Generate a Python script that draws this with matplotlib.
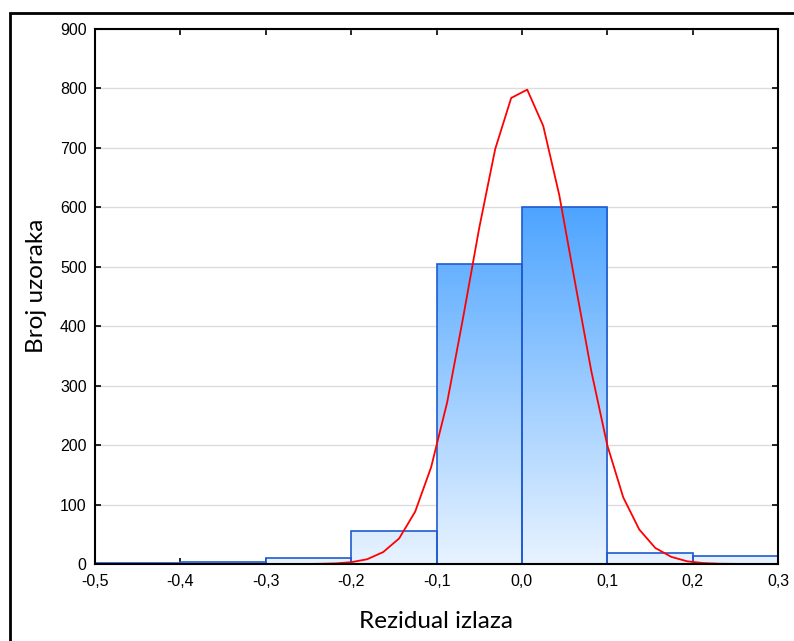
import numpy as np
import matplotlib
matplotlib.use("Agg")
import matplotlib.pyplot as plt
from matplotlib.patches import Rectangle

# histogram bins and counts
bin_edges = [-0.5, -0.4, -0.3, -0.2, -0.1, 0.0, 0.1, 0.2, 0.3]
counts = [1, 3, 10, 55, 505, 600, 18, 14]

# expected normal curve, vertices as drawn
curve_x = [-0.5, -0.48125, -0.4625, -0.44375, -0.425, -0.40625, -0.3875, -0.36875,
           -0.35, -0.33125, -0.3125, -0.29375, -0.275, -0.25625, -0.2375, -0.21875,
           -0.2, -0.18125, -0.1625, -0.14375, -0.125, -0.10625, -0.0875, -0.06875,
           -0.05, -0.03125, -0.0125, 0.00625, 0.025, 0.04375, 0.0625, 0.08125,
           0.1, 0.11875, 0.1375, 0.15625, 0.175, 0.19375, 0.2125, 0.23125,
           0.25, 0.26875, 0.2875]
curve_y = [0, 0, 0, 0, 0, 0, 0, 0,
           0, 0, 0, 0, 0, 0, 0.3, 1,
           3, 8, 20, 43, 88, 163, 272, 415,
           565, 698, 784, 798, 737, 621, 472, 325,
           200, 112, 58, 27, 12, 4.5, 1.6, 0.5,
           0.2, 0, 0]

xticks = [-0.5, -0.4, -0.3, -0.2, -0.1, 0.0, 0.1, 0.2, 0.3]
xtick_labels = ["-0,5", "-0,4", "-0,3", "-0,2", "-0,1", "0,0", "0,1", "0,2", "0,3"]
yticks = [0, 100, 200, 300, 400, 500, 600, 700, 800, 900]

plt.rcParams['font.family'] = ['Liberation Sans', 'DejaVu Sans']

fig = plt.figure(figsize=(7.94, 6.41), dpi=100)
ax = fig.add_axes([95 / 794, 77 / 641, 683 / 794, 535 / 641])

# outer frame (only top and left edges visible)
fig.add_artist(Rectangle((10 / 794, -0.2), 1.2, (628 / 641) + 0.2, transform=fig.transFigure,
                         fill=False, edgecolor='black', linewidth=2, clip_on=False))

ax.set_xlim(-0.5, 0.3)
ax.set_ylim(0, 900)
ax.yaxis.grid(True, color='#dcdcdc', linewidth=1)
ax.set_axisbelow(True)

# gradient fill shared by all bars: light at 0, saturated blue at 600
top_c = np.array([77, 164, 255]) / 255
bot_c = np.array([232, 243, 255]) / 255
t = np.linspace(0, 1, 256)[:, None]
grad = bot_c + (top_c - bot_c) * np.clip(t * 900 / 600, 0, 1)
grad = grad[:, None, :]

for i, c in enumerate(counts):
    x0, x1 = bin_edges[i], bin_edges[i + 1]
    rect = Rectangle((x0, 0), x1 - x0, c, facecolor='none', edgecolor='#1f5bd0',
                     linewidth=1.2, zorder=3)
    ax.add_patch(rect)
    im = ax.imshow(grad, extent=[-0.5, 0.3, 0, 900], origin='lower', aspect='auto',
                   zorder=2, interpolation='bilinear')
    im.set_clip_path(rect)

ax.plot(curve_x, curve_y, color='red', linewidth=1.3, zorder=4)

ax.set_xticks(xticks)
ax.set_xticklabels(xtick_labels)
ax.set_yticks(yticks)
ax.tick_params(direction='in', length=4, width=1.2, labelsize=11.5, top=True, right=True,
               colors='black')
ax.tick_params(axis='x', pad=7)
ax.tick_params(axis='y', pad=6)
for s in ax.spines.values():
    s.set_linewidth(1.5)
    s.set_zorder(5)

ax.set_xlabel('Rezidual izlaza', fontsize=17.5, family=['Lato', 'DejaVu Sans'], labelpad=16)
ax.set_ylabel('Broj uzoraka', fontsize=17.5, family=['Lato', 'DejaVu Sans'])
ax.yaxis.set_label_coords(-0.071, 0.52)

fig.savefig('out.png', dpi=100)
